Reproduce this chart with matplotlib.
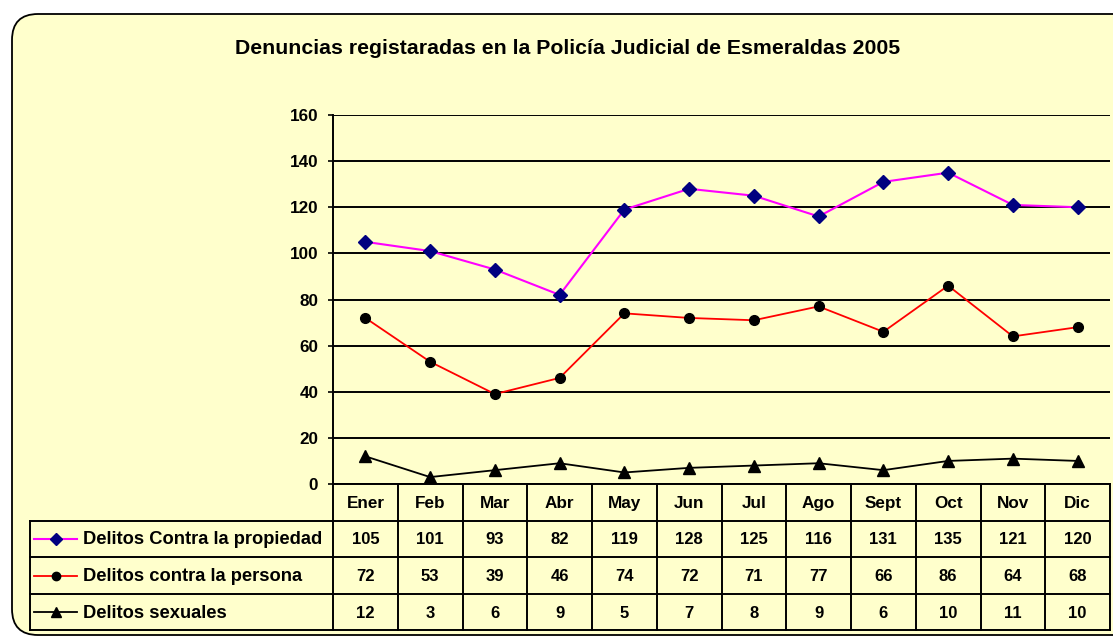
import matplotlib
matplotlib.use('Agg')
import matplotlib.pyplot as plt
from matplotlib.patches import FancyBboxPatch

# datos
meses = ['Ener', 'Feb', 'Mar', 'Abr', 'May', 'Jun', 'Jul', 'Ago', 'Sept', 'Oct', 'Nov', 'Dic']
propiedad = [105, 101, 93, 82, 119, 128, 125, 116, 131, 135, 121, 120]
persona = [72, 53, 39, 46, 74, 72, 71, 77, 66, 86, 64, 68]
sexuales = [12, 3, 6, 9, 5, 7, 8, 9, 6, 10, 11, 10]
nombres = ['Delitos Contra la propiedad', 'Delitos contra la persona', 'Delitos sexuales']
titulo = 'Denuncias registaradas en la Policía Judicial de Esmeraldas 2005'
yticks = [0, 20, 40, 60, 80, 100, 120, 140, 160]

plt.rcParams['font.family'] = ['Liberation Sans', 'DejaVu Sans']
plt.rcParams['font.weight'] = 'bold'

W, H = 1113, 638
fig = plt.figure(figsize=(W / 100, H / 100), dpi=100)
fig.patch.set_facecolor('white')

# fondo y tabla en coordenadas de pixel
bg = fig.add_axes([0, 0, 1, 1])
bg.set_xlim(0, W)
bg.set_ylim(H, 0)
bg.axis('off')
caja = FancyBboxPatch((12, 14), W + 60, 621, boxstyle='round,pad=0,rounding_size=26',
                      facecolor='#FFFFCC', edgecolor='black', linewidth=1.3)
bg.add_patch(caja)

bg.text(568, 48, titulo, ha='center', va='center', fontsize=15.3, fontweight='bold')

# limites de la zona del grafico
x0, x1 = 333, 1110
ytop, ybot = 115, 484
ancho = (x1 - x0) / len(meses)
filas = [484, 521, 557, 594, 630]

ax = fig.add_axes([x0 / W, 1 - ybot / H, (x1 - x0) / W, (ybot - ytop) / H])
ax.patch.set_alpha(0)
ax.set_xlim(-0.5, len(meses) - 0.5)
ax.set_ylim(0, 160)
ax.set_yticks(yticks)
ax.set_yticklabels([str(v) for v in yticks], fontsize=12.3, fontweight='bold')
ax.set_xticks([])
ax.tick_params(axis='y', length=3.6, width=1.2, pad=7)
ax.yaxis.grid(True, color='black', linewidth=1.4)
ax.set_axisbelow(True)
for s in ['top', 'right']:
    ax.spines[s].set_visible(False)
ax.spines['left'].set_linewidth(1.4)
ax.spines['bottom'].set_linewidth(1.4)

xs = list(range(len(meses)))
estilos = [
    dict(color='#FF00FF', marker='D', markerfacecolor='#000080', markeredgecolor='#000080', markersize=7, linewidth=1.5),
    dict(color='#FF0000', marker='o', markerfacecolor='black', markeredgecolor='black', markersize=7, linewidth=1.3),
    dict(color='black', marker='^', markerfacecolor='black', markeredgecolor='black', markersize=8, linewidth=1.3),
]
series = [propiedad, persona, sexuales]
for vals, st in zip(series, estilos):
    ax.plot(xs, vals, clip_on=False, zorder=3, **st)

# tabla de datos
lw = 1.4
for y in filas[1:]:
    bg.plot([30, x1], [y, y], color='black', linewidth=lw)
bg.plot([30, 30], [filas[1], filas[-1]], color='black', linewidth=lw)
for k in range(len(meses) + 1):
    xb = x0 + k * ancho
    bg.plot([xb, xb], [filas[0], filas[-1]], color='black', linewidth=lw)

for k, m in enumerate(meses):
    cx = x0 + (k + 0.5) * ancho
    bg.text(cx, (filas[0] + filas[1]) / 2 + 1, m, ha='center', va='center', fontsize=12.3)
    for r, vals in enumerate(series):
        cy = (filas[r + 1] + filas[r + 2]) / 2 + 1
        bg.text(cx, cy, str(vals[k]), ha='center', va='center', fontsize=12)

for r, (nom, st) in enumerate(zip(nombres, estilos)):
    cy = (filas[r + 1] + filas[r + 2]) / 2
    bg.plot([34, 77], [cy, cy], color=st['color'], linewidth=st['linewidth'])
    bg.plot([56], [cy], linestyle='none', marker=st['marker'], markerfacecolor=st['markerfacecolor'],
            markeredgecolor=st['markeredgecolor'], markersize=st['markersize'] - 1)
    bg.text(83, cy + 1, nom, ha='left', va='center', fontsize=13.2)

fig.savefig('out.png', dpi=100)
